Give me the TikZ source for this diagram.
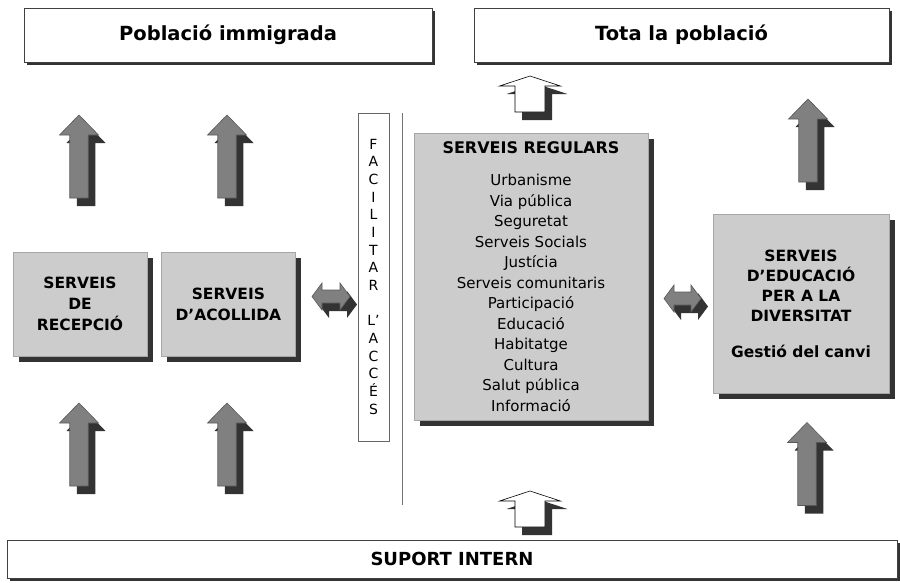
\documentclass[tikz,border=0pt]{standalone}
\usepackage{fontspec}
\setmainfont{DejaVu Sans}
\usetikzlibrary{positioning,shadows}

% block arrow outlines, centred on the pic origin
\newcommand\uparrowpath[4]{(0,-#1) -- (#2,-#1+#4) -- (#3,-#1+#4) -- (#3,#1) -- (-#3,#1) -- (-#3,-#1+#4) -- (-#2,-#1+#4) -- cycle}
\newcommand\sidearrowpath[4]{(-#1,0) -- (-#1+#4,-#2) -- (-#1+#4,-#3) -- (#1-#4,-#3) -- (#1-#4,-#2) -- (#1,0) -- (#1-#4,#2) -- (#1-#4,#3) -- (-#1+#4,#3) -- (-#1+#4,#2) -- cycle}

\tikzset{
  darkshadow/.style={drop shadow={shadow xshift=#1, shadow yshift=-#1, fill=black!80, opacity=1}},
  popbox/.style={draw=black!75, fill=white, line width=0.8pt, inner sep=0pt,
    font=\bfseries\fontsize{19.5}{23}\selectfont, darkshadow=2.5pt},
  servbox/.style={draw=black!35, fill=black!20, inner sep=0pt, align=center,
    font=\bfseries\fontsize{15.5}{21}\selectfont, darkshadow=6pt},
  letter/.style={anchor=base, inner sep=0pt, font=\fontsize{14}{17}\selectfont},
  grayarrow/.style={fill=black!50, draw=black!65, line width=0.6pt},
  openarr/.style={fill=white, draw=black, line width=0.6pt},
  pics/blockup/.style n args={5}{code={
    \fill[black!80, shift={(7,8)}] \uparrowpath{#1}{#2}{#3}{#4} ;
    \filldraw[#5] \uparrowpath{#1}{#2}{#3}{#4} ;
  }},
  pics/blockside/.style n args={5}{code={
    \fill[black!80, shift={(7,8)}] \sidearrowpath{#1}{#2}{#3}{#4} ;
    \filldraw[#5] \sidearrowpath{#1}{#2}{#3}{#4} ;
  }},
}

\begin{document}
\begin{tikzpicture}[x=1pt, y=-1pt]
    \useasboundingbox (0,0) rectangle (900,582);
    % Nodes
    \node[popbox, minimum width=408pt, minimum height=54pt] (immig) at (228,35) {Població immigrada} ; %
    \node[popbox, minimum width=415pt, minimum height=54pt] (tota) at (681.5,35) {Tota la població} ; %
    \node[popbox, minimum width=890pt, minimum height=38pt, font=\bfseries\fontsize{18}{20}\selectfont] (suport) at (452,559) {SUPORT INTERN} ; %
    \node[servbox, minimum width=134pt, minimum height=104pt] (recepcio) at (80,304) {SERVEIS\\DE\\RECEPCIÓ} ; %
    \node[servbox, minimum width=134pt, minimum height=104pt, right=14pt of recepcio] (acollida) {SERVEIS\\D’ACOLLIDA} ; %
    \node[draw=black!60, fill=white, inner sep=0pt, minimum width=31pt, minimum height=328pt] (facilitar) at (373.5,277) {} ; %
    \foreach \ch [count=\i from 0] in {F,A,C,I,L,I,T,A,R,{},L’,A,C,C,É,S}
      \node[letter] (fac-\i) at (373.5,149.2+17.67*\i) {\ch} ; %
    \node[servbox, minimum width=234pt, minimum height=287pt, font=\fontsize{15}{20.5}\selectfont] (regulars) at (531,276.5)
      {{\bfseries\fontsize{16}{20.5}\selectfont SERVEIS REGULARS}\\[11.5pt]Urbanisme\\Via pública\\Seguretat\\Serveis Socials\\Justícia\\Serveis comunitaris\\Participació\\Educació\\Habitatge\\Cultura\\Salut pública\\Informació} ; %
    \node[servbox, minimum width=176pt, minimum height=179pt, font=\bfseries\fontsize{15.5}{20}\selectfont] (educacio) at (801,303.5)
      {SERVEIS\\D’EDUCACIÓ\\PER A LA\\DIVERSITAT\\[16pt]Gestió del canvi} ; %
    % Arrows
    \pic (uprec) at (79,156.5) {blockup={41.5}{19.5}{9.25}{20}{grayarrow}} ; %
    \pic (upaco) at (227,156.5) {blockup={41.5}{19.5}{9.25}{20}{grayarrow}} ; %
    \pic (inrec) at (79,444.5) {blockup={41.5}{19.5}{9.25}{20}{grayarrow}} ; %
    \pic (inaco) at (227,444.5) {blockup={41.5}{19.5}{9.25}{20}{grayarrow}} ; %
    \pic (upedu) at (808,140.5) {blockup={41.5}{19.5}{9.25}{20}{grayarrow}} ; %
    \pic (inedu) at (807,464) {blockup={41.5}{19.5}{9.25}{20}{grayarrow}} ; %
    \pic (upreg) at (530,94) {blockup={18}{30.5}{15}{10}{openarr}} ; %
    \pic (inreg) at (530,509) {blockup={18}{30.5}{15}{10}{openarr}} ; %
    \pic (acces) at (331,296.5) {blockside={19}{13.5}{6.5}{10}{grayarrow}} ; %
    \pic (canvi) at (682.5,298.5) {blockside={18.5}{13.5}{6.5}{10}{grayarrow}} ; %
    \draw[black!55, line width=0.8pt] (402,113) -- (402,505) ; %
  \end{tikzpicture}
\end{document}
